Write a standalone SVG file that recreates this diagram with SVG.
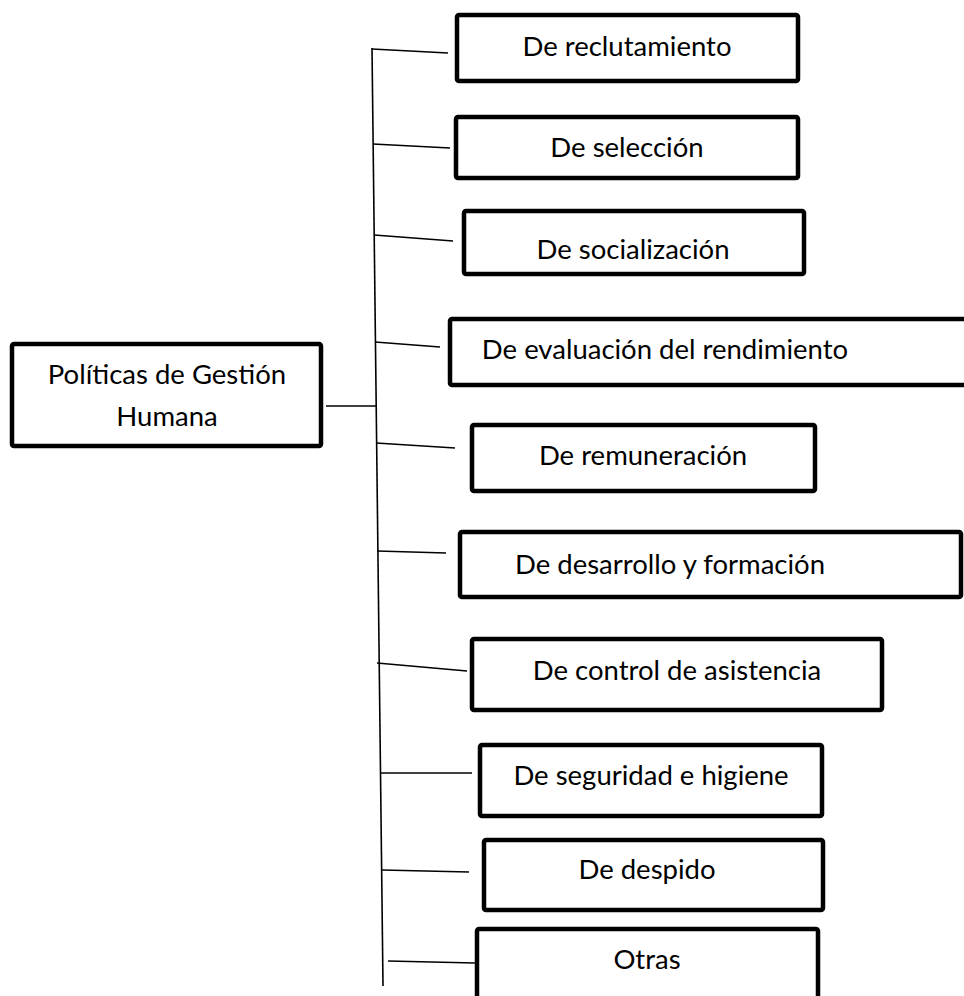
<svg xmlns="http://www.w3.org/2000/svg" width="964" height="996" viewBox="0 0 964 996">
<style>
.box{fill:#fff;stroke:#000;stroke-width:4.5;}
.lbl{font-family:Lato,"Liberation Sans",sans-serif;font-size:27.5px;fill:#000;text-anchor:middle;}
.con{stroke:#000;stroke-width:1.6;fill:none;}
</style>
<rect width="964" height="996" fill="#fff"/>
<g id="connectors">
<line class="con" x1="372" y1="48" x2="383" y2="986"/>
<line class="con" x1="372" y1="49" x2="448" y2="53"/>
<line class="con" x1="373" y1="144" x2="450" y2="148"/>
<line class="con" x1="374" y1="235" x2="453" y2="241"/>
<line class="con" x1="375" y1="342" x2="440" y2="347"/>
<line class="con" x1="326" y1="406" x2="376" y2="406"/>
<line class="con" x1="376" y1="443" x2="455" y2="448"/>
<line class="con" x1="377" y1="551" x2="446" y2="553"/>
<line class="con" x1="377" y1="663" x2="467" y2="671"/>
<line class="con" x1="381" y1="773" x2="472" y2="773"/>
<line class="con" x1="382" y1="870" x2="469" y2="872"/>
<line class="con" x1="388" y1="961" x2="475" y2="963"/>
</g>
<g id="root">
<rect class="box" x="12" y="344" width="309" height="102" rx="2"/>
<text class="lbl" x="167" y="384">Políticas de Gestión</text>
<text class="lbl" x="167" y="426">Humana</text>
</g>
<g id="n1"><rect class="box" x="457" y="15" width="341" height="66" rx="2"/><text class="lbl" x="627" y="56">De reclutamiento</text></g>
<g id="n2"><rect class="box" x="456" y="117" width="342" height="61" rx="2"/><text class="lbl" x="627" y="157">De selección</text></g>
<g id="n3"><rect class="box" x="464" y="211" width="340" height="63" rx="2"/><text class="lbl" x="633" y="259">De socialización</text></g>
<g id="n4"><rect class="box" x="450" y="319" width="530" height="66" rx="2"/><text class="lbl" x="665" y="359">De evaluación del rendimiento</text></g>
<g id="n5"><rect class="box" x="472" y="425" width="343" height="66" rx="2"/><text class="lbl" x="643" y="465">De remuneración</text></g>
<g id="n6"><rect class="box" x="460" y="532" width="501" height="65" rx="2"/><text class="lbl" x="670" y="574">De desarrollo y formación</text></g>
<g id="n7"><rect class="box" x="472" y="639" width="410" height="71" rx="2"/><text class="lbl" x="677" y="680">De control de asistencia</text></g>
<g id="n8"><rect class="box" x="480" y="745" width="342" height="71" rx="2"/><text class="lbl" x="651" y="785">De seguridad e higiene</text></g>
<g id="n9"><rect class="box" x="484" y="840" width="339" height="70" rx="2"/><text class="lbl" x="647" y="879">De despido</text></g>
<g id="n10"><rect class="box" x="477" y="929" width="341" height="80" rx="2"/><text class="lbl" x="647" y="969">Otras</text></g>
</svg>
